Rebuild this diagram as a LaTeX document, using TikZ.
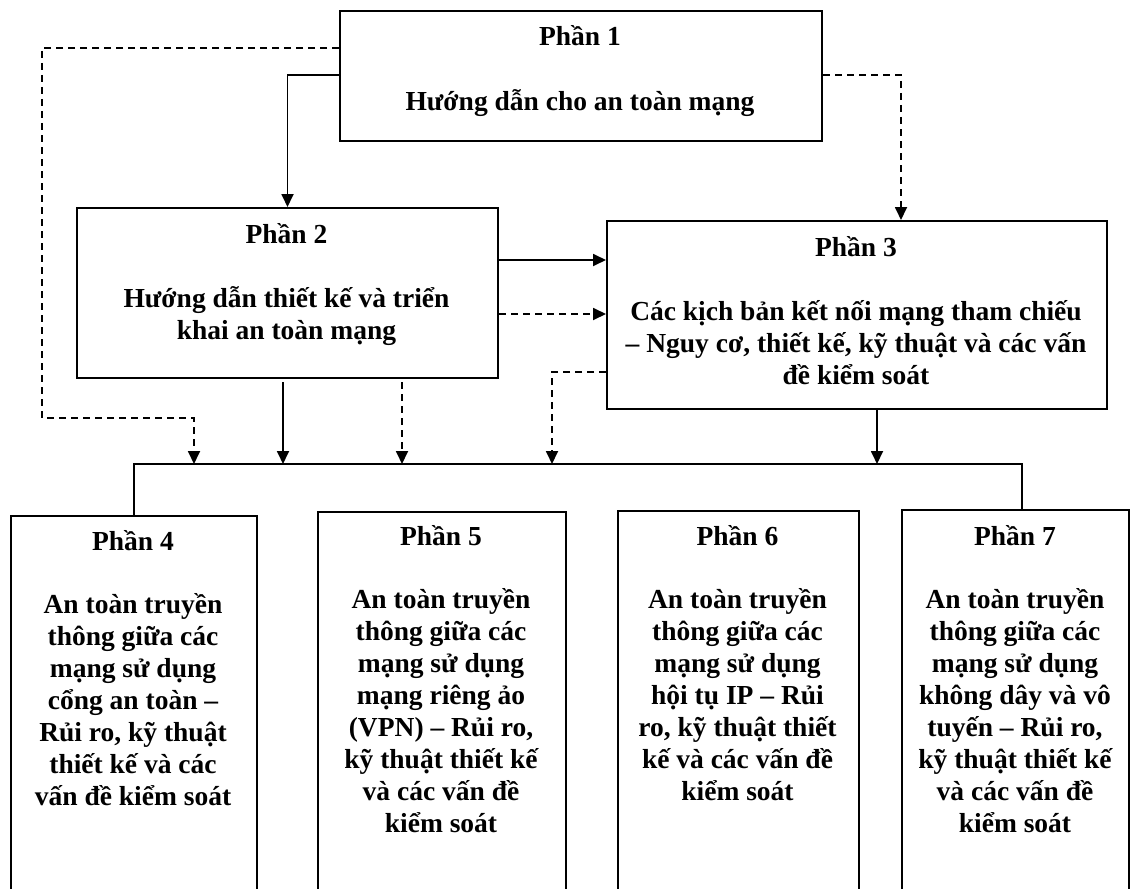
\documentclass[tikz,border=0pt]{standalone}
\usepackage{fontspec}
\setmainfont{Liberation Serif}
\usetikzlibrary{arrows.meta}
% first-line strut: fixes the distance from a text block's top to its first baseline
\newcommand{\bodystrut}{\rule{0pt}{30pt}}
% keep a constant line pitch even for lines with stacked accents
\AtBeginDocument{\lineskiplimit=-20pt\relax}
\begin{document}
\begin{tikzpicture}[x=1pt,y=-1pt,
  box/.style={draw, line width=2pt, rectangle, inner sep=0pt, anchor=north west},
  txt/.style={font=\bfseries\fontsize{27.5}{32}\selectfont, inner sep=0pt},
  title/.style={txt, anchor=base},
  body/.style={txt, anchor=north, align=center},
  link/.style={line width=1.8pt, -{Triangle[length=13pt,width=12pt]}},
  dlink/.style={link, dash pattern=on 7pt off 5pt},
  bus/.style={line width=1.8pt}
]
\useasboundingbox (0,0) rectangle (1134,888);
\clip (0,0) rectangle (1134,888);

% boxes
\node[box, minimum width=482pt, minimum height=130pt] (b1) at (339,10) {};
\node[box, minimum width=421pt, minimum height=170pt] (b2) at (76,207) {};
\node[box, minimum width=500pt, minimum height=188pt] (b3) at (606,220) {};
\node[box, minimum width=246pt, minimum height=400pt] (b4) at (10,515) {};
\node[box, minimum width=248pt, minimum height=400pt] (b5) at (317,511) {};
\node[box, minimum width=241pt, minimum height=400pt] (b6) at (617,510) {};
\node[box, minimum width=227pt, minimum height=400pt] (b7) at (901,509) {};

% texts
\node[title] (h1) at (580,46) {Phần 1};
\node[body] (d1) at (580,80) {\bodystrut Hướng dẫn cho an toàn mạng};
\node[title] (h2) at (286.5,243) {Phần 2};
\node[body] (d2) at (286.5,277) {\bodystrut Hướng dẫn thiết kế và triển\\khai an toàn mạng};
\node[title] (h3) at (856,256) {Phần 3};
\node[body] (d3) at (856,290) {\bodystrut Các kịch bản kết nối mạng tham chiếu\\– Nguy cơ, thiết kế, kỹ thuật và các vấn\\đề kiểm soát};
\node[title] (h4) at (133,550) {Phần 4};
\node[body] (d4) at (133,583) {\bodystrut An toàn truyền\\thông giữa các\\mạng sử dụng\\cổng an toàn –\\Rủi ro, kỹ thuật\\thiết kế và các\\vấn đề kiểm soát};
\node[title] (h5) at (441,545) {Phần 5};
\node[body] (d5) at (441,578) {\bodystrut An toàn truyền\\thông giữa các\\mạng sử dụng\\mạng riêng ảo\\(VPN) – Rủi ro,\\kỹ thuật thiết kế\\và các vấn đề\\kiểm soát};
\node[title] (h6) at (737.5,545) {Phần 6};
\node[body] (d6) at (737.5,578) {\bodystrut An toàn truyền\\thông giữa các\\mạng sử dụng\\hội tụ IP – Rủi\\ro, kỹ thuật thiết\\kế và các vấn đề\\kiểm soát};
\node[title] (h7) at (1015,545) {Phần 7};
\node[body] (d7) at (1015,578) {\bodystrut An toàn truyền\\thông giữa các\\mạng sử dụng\\không dây và vô\\tuyến – Rủi ro,\\kỹ thuật thiết kế\\và các vấn đề\\kiểm soát};

% bends and ends of connectors
\coordinate (c1) at (287,75);
\coordinate (c2) at (42,48);
\coordinate (c3) at (42,418);
\coordinate (c4) at (901,75);
\coordinate (c5) at (550,260);
\coordinate (c6) at (550,314);
\coordinate (c7) at (552,372);
\coordinate (t1) at (194,464);
\coordinate (t2) at (283,464);
\coordinate (t3) at (402,464);
\coordinate (t4) at (552,464);
\coordinate (t5) at (877,464);
\coordinate (busR) at (1022,464);

% connectors
\draw[link] (b1.west |- c1) -| (b2.north);
\draw[dlink] (b1.west |- c2) -- (c2) -- (c3) -| (t1);
\draw[dlink] (b1.east |- c4) -| (b3.north -| c4);
\draw[link] (b2.east |- c5) -- (b3.west |- c5);
\draw[dlink] (b2.east |- c6) -- (b3.west |- c6);
\draw[link, shorten <=3pt] (b2.south -| t2) -- (t2);
\draw[dlink, shorten <=3pt] (b2.south -| t3) -- (t3);
\draw[dlink] (b3.west |- c7) -| (t4);
\draw[link] (b3.south -| t5) -- (t5);

% distribution bus to the lower boxes
\draw[bus] (b4.north) |- (busR) -- (busR |- b7.north);
\end{tikzpicture}
\end{document}
